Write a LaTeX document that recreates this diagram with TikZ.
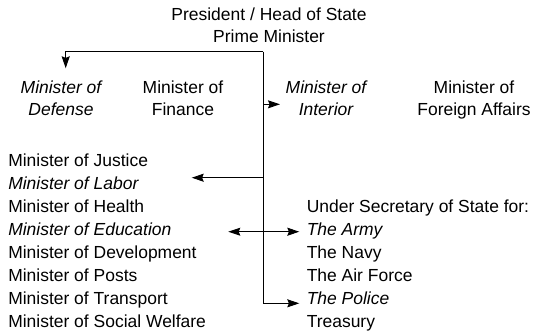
\documentclass[tikz,border=0pt]{standalone}
\usepackage{fontspec}
\setmainfont{Liberation Sans}
\usetikzlibrary{arrows.meta}
\newcommand{\chartsize}{\fontsize{13.1pt}{16.5pt}\selectfont}
\tikzset{
  every node/.style={inner sep=0pt, font=\chartsize},
  ital/.style={font=\chartsize\itshape},
  item/.style={anchor=base west},
  office/.style={anchor=base, align=center},
  link/.style={line width=0.7pt, -{Stealth[length=9pt,width=6pt,inset=1.2pt]}},
  twolink/.style={line width=0.7pt, {Stealth[length=9pt,width=6pt,inset=1.2pt]}-{Stealth[length=9pt,width=6pt,inset=1.2pt]}},
}

\begin{document}
\begin{tikzpicture}[x=0.75pt, y=-0.75pt]
  \useasboundingbox (0,0) rectangle (534,333);

  % base anchor = last line
  \node[office] at (269, 42.3) (pres) {President / Head of State\\Prime Minister};

  \node[office, ital] at (61, 115) (defense) {Minister of\\Defense};
  \node[office] at (183, 115) (finance) {Minister of\\Finance};
  \node[office, ital] at (326, 115) (interior) {Minister of\\Interior};
  \node[office] at (474, 115) (foreign) {Minister of\\Foreign Affairs};

  % left column
  \node[item] at (8, 166) (justice) {Minister of Justice};
  \node[item, ital] at (8, 189) (labor) {Minister of Labor};
  \node[item] at (8, 212) (health) {Minister of Health};
  \node[item, ital] at (8, 235) (educ) {Minister of Education};
  \node[item] at (8, 258) (devel) {Minister of Development};
  \node[item] at (8, 281) (posts) {Minister of Posts};
  \node[item] at (8, 304) (transp) {Minister of Transport};
  \node[item] at (8, 327) (welfare) {Minister of Social Welfare};

  % right column
  \node[item] at (306.5, 212) (under) {Under Secretary of State for:};
  \node[item, ital] at (306.5, 235) (army) {The Army};
  \node[item] at (306.5, 258) (navy) {The Navy};
  \node[item] at (306.5, 281) (airforce) {The Air Force};
  \node[item, ital] at (306.5, 304) (police) {The Police};
  \node[item] at (306.5, 327) (treasury) {Treasury};

  \coordinate (corner) at (263, 51.7);
  \coordinate (deftip) at (65.7, 68.3);
  \coordinate (intertip) at (280, 104.3);
  \coordinate (labortip) at (191.7, 177.7);
  \coordinate (eductip) at (228.3, 231.7);
  \coordinate (armytip) at (299.3, 231.7);
  \coordinate (policetip) at (299.3, 303.3);

  \draw[link] (corner) -| (deftip);
  \draw[link] (corner) |- (policetip);
  \draw[link] (corner |- intertip) -- (intertip);
  \draw[link] (corner |- labortip) -- (labortip);
  \draw[twolink] (eductip) -- (armytip);
\end{tikzpicture}
\end{document}
